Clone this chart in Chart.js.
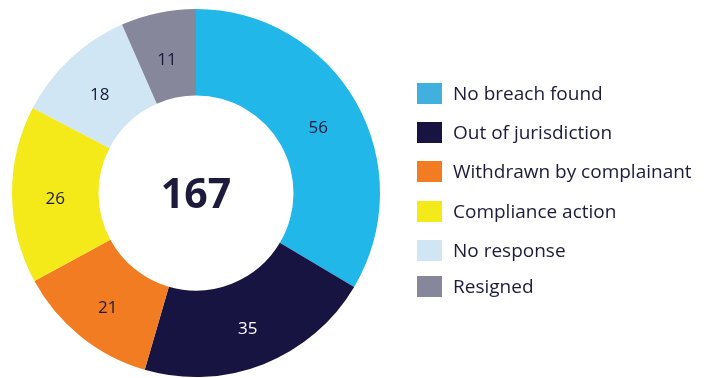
<!DOCTYPE html>
<html>
<head>
<meta charset="utf-8">
<style>
  html, body { margin: 0; padding: 0; background: #fff; }
  #wrap { width: 708px; height: 378px; position: relative; }
</style>
<script src="https://cdn.jsdelivr.net/npm/chart.js@4/dist/chart.umd.min.js"></script>
</head>
<body>
<div id="wrap"><canvas id="donut" width="708" height="378"></canvas></div>
<script>
// --- data ---
const categories = ['No breach found', 'Out of jurisdiction', 'Withdrawn by complainant', 'Compliance action', 'No response', 'Resigned'];
const counts = [56, 35, 21, 26, 18, 11];
const sliceColors = ['#22b7e9', '#181442', '#f27c22', '#f4e919', '#d0e6f4', '#87879c'];
const swatchColors = ['#42b0df', '#181442', '#f27c22', '#f4e919', '#d0e6f4', '#87879c'];
const labelColors = ['#1d1a3c', '#ffffff', '#1d1a3c', '#1d1a3c', '#1d1a3c', '#1d1a3c'];

const total = counts.reduce((a, b) => a + b, 0);
const FONT = '"Open Sans", "DejaVu Sans", sans-serif';

// numbers on each slice + total in the hole
const sliceLabels = {
  id: 'sliceLabels',
  afterDatasetsDraw(chart) {
    const ctx = chart.ctx;
    const meta = chart.getDatasetMeta(0);
    ctx.save();
    ctx.textAlign = 'center';
    ctx.textBaseline = 'alphabetic';
    meta.data.forEach((arc, i) => {
      const p = arc.tooltipPosition();
      ctx.fillStyle = labelColors[i];
      ctx.font = '17px ' + FONT;
      ctx.fillText(String(counts[i]), p.x, p.y + 10);
    });
    const a = meta.data[0];
    ctx.fillStyle = '#1d1a3c';
    ctx.font = 'bold 41px ' + FONT;
    ctx.fillText(String(total), a.x, a.y + 15);
    ctx.restore();
  }
};

// legend down the right side
const sideLegend = {
  id: 'sideLegend',
  afterDraw(chart) {
    const ctx = chart.ctx;
    const rows = [93, 132, 171, 211, 250, 286];
    ctx.save();
    ctx.textBaseline = 'alphabetic';
    ctx.font = '19px ' + FONT;
    categories.forEach((name, i) => {
      ctx.fillStyle = swatchColors[i];
      ctx.fillRect(417, rows[i] - 10, 25, 21);
      ctx.fillStyle = '#1d1a3c';
      ctx.fillText(name, 453, rows[i] + 7);
    });
    ctx.restore();
  }
};

new Chart(document.getElementById('donut'), {
  type: 'doughnut',
  data: {
    labels: categories,
    datasets: [{
      data: counts,
      backgroundColor: sliceColors,
      borderWidth: 0
    }]
  },
  options: {
    responsive: false,
    animation: false,
    cutout: '53%',
    layout: { padding: { left: 11, right: 327, top: 9, bottom: 1 } },
    events: [],
    plugins: {
      legend: { display: false },
      tooltip: { enabled: false }
    }
  },
  plugins: [sliceLabels, sideLegend]
});
</script>
</body>
</html>
